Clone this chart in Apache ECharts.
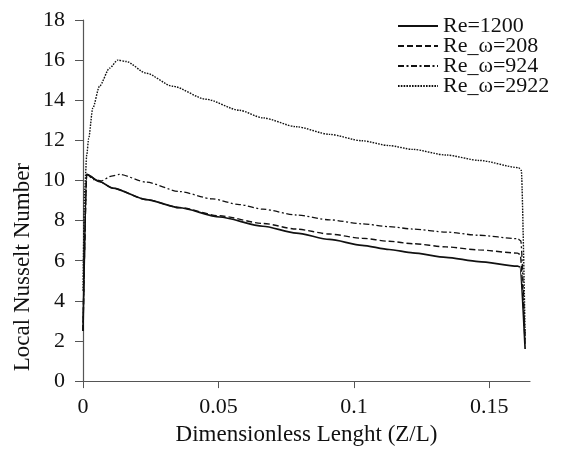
<!DOCTYPE html>
<html>
<head>
<meta charset="utf-8">
<script src="https://cdn.jsdelivr.net/npm/echarts@6/dist/echarts.min.js"></script>
<style>
html,body{margin:0;padding:0;background:#fff;}
#c{width:571px;height:451px;}
</style>
</head>
<body>
<div id="c"></div>
<script>
var seriesNames = ['Re=1200', 'Re_\u03c9=208', 'Re_\u03c9=924', 'Re_\u03c9=2922'];

var zRe1200 = [0, 0.0014, 0.006, 0.011, 0.0233, 0.0356, 0.0504, 0.0664, 0.0787, 0.091, 0.103, 0.113, 0.1217, 0.134, 0.146, 0.1604, 0.1612, 0.1632];
var nuRe1200 = [2.5, 10.3, 9.95, 9.62, 9.05, 8.64, 8.18, 7.72, 7.38, 7.06, 6.77, 6.56, 6.39, 6.17, 5.96, 5.73, 5.7, 1.6];

var z208 = [0, 0.0014, 0.006, 0.011, 0.0233, 0.0356, 0.0504, 0.0664, 0.0787, 0.091, 0.103, 0.113, 0.1217, 0.134, 0.146, 0.1604, 0.1614, 0.1632];
var nu208 = [2.5, 10.3, 9.95, 9.62, 9.05, 8.65, 8.24, 7.86, 7.58, 7.33, 7.12, 6.97, 6.85, 6.69, 6.54, 6.38, 6.3, 1.8];

var z924 = [0, 0.0014, 0.004, 0.0067, 0.0105, 0.0135, 0.0233, 0.0356, 0.0479, 0.0577, 0.0664, 0.0787, 0.091, 0.103, 0.113, 0.1217, 0.134, 0.146, 0.1604, 0.1616, 0.1632];
var nu924 = [2.5, 10.3, 10.05, 9.98, 10.22, 10.3, 9.92, 9.45, 9.08, 8.8, 8.57, 8.28, 8.04, 7.84, 7.7, 7.58, 7.43, 7.27, 7.1, 7.0, 2.0];

var z2922 = [0, 0.0006, 0.0014, 0.0021, 0.0036, 0.0061, 0.0098, 0.0128, 0.016, 0.0233, 0.0331, 0.0454, 0.0577, 0.0664, 0.0787, 0.091, 0.103, 0.113, 0.1217, 0.134, 0.1463, 0.1608, 0.1618, 0.1632];
var nu2922 = [4.5, 9.5, 11.3, 12.1, 13.6, 14.7, 15.6, 16.0, 15.93, 15.35, 14.7, 14.05, 13.5, 13.12, 12.68, 12.3, 11.98, 11.74, 11.55, 11.27, 11.0, 10.64, 10.5, 2.2];

var xTicks = [0, 0.05, 0.1, 0.15];
var xAxisTitle = 'Dimensionless Lenght (Z/L)';
var yAxisTitle = 'Local Nusselt Number';

function pairs(xs, ys) { return xs.map(function (x, i) { return [x, ys[i]]; }); }

var FONT = 'Liberation Serif';
var INK = '#111';
var styles = [
  { type: 'solid', width: 1.7 },
  { type: [6, 3], width: 1.4 },
  { type: [6, 2.5, 2, 2.5], width: 1.3 },
  { type: [1.6, 1.2], width: 1.4 }
];
var datasets = [pairs(zRe1200, nuRe1200), pairs(z208, nu208), pairs(z924, nu924), pairs(z2922, nu2922)];

var chart = echarts.init(document.getElementById('c'));
chart.setOption({
  animation: false,
  backgroundColor: '#fff',
  textStyle: { fontFamily: FONT },
  grid: { left: 83, right: 41, top: 20, bottom: 66 },
  legend: {
    orient: 'vertical',
    left: 392, top: 10,
    itemWidth: 40, itemHeight: 12, itemGap: -2,
    itemStyle: { opacity: 0 },
    textStyle: { fontFamily: FONT, fontSize: 22, color: INK, lineHeight: 20 },
    data: seriesNames
  },
  xAxis: {
    type: 'value', min: 0, max: 0.165, interval: 0.05,
    name: xAxisTitle, nameLocation: 'middle', nameGap: 40,
    nameTextStyle: { fontFamily: FONT, fontSize: 23, color: INK },
    axisLine: { show: true, lineStyle: { color: '#555', width: 1.2 } },
    axisTick: { show: true, length: 7, lineStyle: { color: '#555' }, customValues: xTicks },
    axisLabel: { fontFamily: FONT, fontSize: 22, color: INK, margin: 15, customValues: xTicks,
      formatter: function (v) { return String(v); } },
    splitLine: { show: false }
  },
  yAxis: {
    type: 'value', min: 0, max: 18, interval: 2,
    axisLine: { show: true, lineStyle: { color: '#555', width: 1.2 } },
    axisTick: { show: true, length: 8, lineStyle: { color: '#555' } },
    axisLabel: { fontFamily: FONT, fontSize: 22, color: INK, margin: 18 },
    splitLine: { show: false }
  },
  graphic: [{
    type: 'text', left: 11, top: 163, rotation: Math.PI / 2,
    style: { text: yAxisTitle, font: '23px ' + FONT, fill: INK }
  }],
  series: seriesNames.map(function (n, i) {
    return {
      name: n, type: 'line', data: datasets[i], symbol: 'none',
      smooth: 0.25, smoothMonotone: 'x',
      lineStyle: { color: INK, type: styles[i].type, width: styles[i].width },
      itemStyle: { color: INK }
    };
  })
});
</script>
</body>
</html>
